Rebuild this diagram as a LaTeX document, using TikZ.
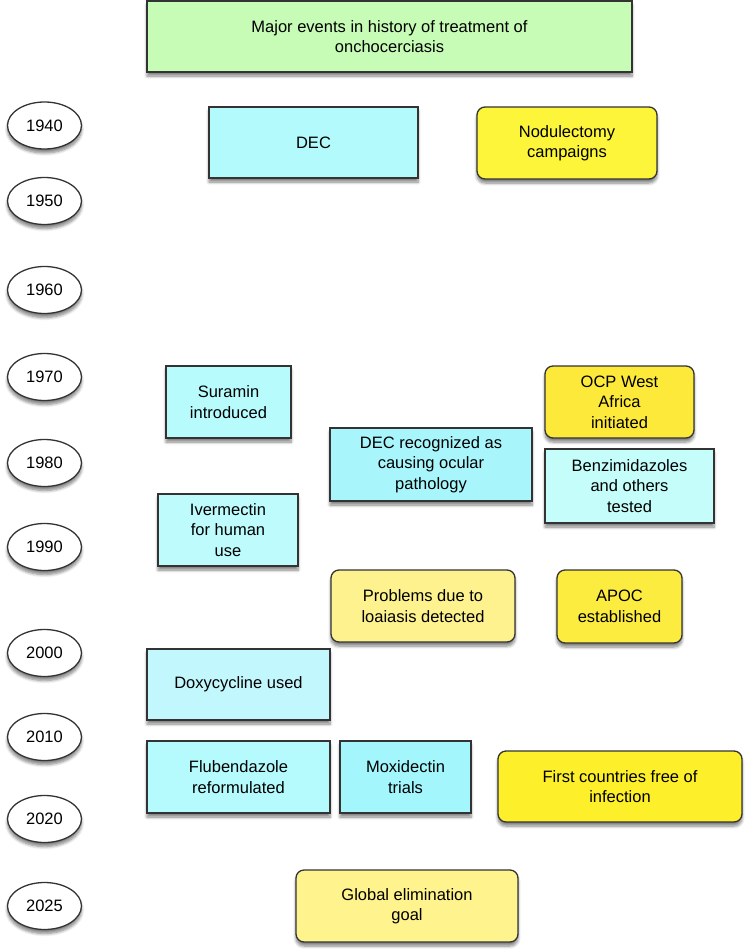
\documentclass[tikz,border=0pt]{standalone}
\usepackage{fontspec}
\setmainfont{Liberation Sans}
\usetikzlibrary{shadows.blur,shapes.geometric}
\definecolor{titlegreen}{HTML}{C6FCB6}
\definecolor{cyanA}{HTML}{B3FAFC}
\definecolor{cyanB}{HTML}{B7FBFD}
\definecolor{cyanC}{HTML}{A8F6FB}
\definecolor{cyanD}{HTML}{BDFBFD}
\definecolor{cyanE}{HTML}{C5FDFB}
\definecolor{cyanF}{HTML}{C2F8FD}
\definecolor{cyanG}{HTML}{B5FBFD}
\definecolor{cyanH}{HTML}{A3F7FC}
\definecolor{yelA}{HTML}{FCF53A}
\definecolor{yelB}{HTML}{FDE93A}
\definecolor{yelC}{HTML}{FDEC40}
\definecolor{yelD}{HTML}{FDF28E}
\definecolor{yelE}{HTML}{FDEF2A}
\definecolor{yelF}{HTML}{FEF38C}
\definecolor{edge}{HTML}{333333}
\tikzset{
  base/.style={draw=edge, line width=1.3pt, align=center, inner sep=0pt,
    font=\fontsize{16.5}{20.5}\selectfont,
    blur shadow={shadow xshift=0pt, shadow yshift=-4pt, shadow blur steps=6, shadow opacity=50, shadow blur radius=3pt}},
  sqbox/.style={base, rectangle},
  rbox/.style={base, rectangle, rounded corners=8pt},
  year/.style={base, ellipse, minimum width=74pt, minimum height=47pt}
}
\begin{document}
\begin{tikzpicture}[x=1pt,y=-1pt]
\useasboundingbox (0,0) rectangle (750,950);
% title
\node[sqbox, fill=titlegreen, minimum width=485pt, minimum height=71pt] (title) at (389.5,36.5) {Major events in history of treatment of\\onchocerciasis};
% years
\node[year, fill=white] (y1940) at (44.5,125.5) {1940};
\node[year, fill=white] (y1950) at (44.5,201) {1950};
\node[year, fill=white] (y1960) at (44.5,290) {1960};
\node[year, fill=white] (y1970) at (44.5,377) {1970};
\node[year, fill=white] (y1980) at (44.5,463) {1980};
\node[year, fill=white] (y1990) at (44.5,547) {1990};
\node[year, fill=white] (y2000) at (44.5,653) {2000};
\node[year, fill=white] (y2010) at (44.5,737) {2010};
\node[year, fill=white] (y2020) at (44.5,819) {2020};
\node[year, fill=white] (y2025) at (44.5,906) {2025};
% events
\node[sqbox, fill=cyanA, minimum width=209pt, minimum height=71pt] (dec) at (313.5,142.5) {DEC};
\node[rbox, fill=yelA, minimum width=180pt, minimum height=72pt] (nod) at (567,143) {Nodulectomy\\campaigns};
\node[sqbox, fill=cyanB, minimum width=125pt, minimum height=72pt] (sur) at (228.5,402) {Suramin\\introduced};
\node[rbox, fill=yelB, minimum width=149pt, minimum height=72pt] (ocp) at (619.5,402) {OCP West\\Africa\\initiated};
\node[sqbox, fill=cyanC, minimum width=202pt, minimum height=73pt] (decr) at (431,464.5) {DEC recognized as\\causing ocular\\pathology};
\node[sqbox, fill=cyanE, minimum width=169pt, minimum height=74pt] (benz) at (629.5,486) {Benzimidazoles\\and others\\tested};
\node[sqbox, fill=cyanD, minimum width=140pt, minimum height=72pt] (iver) at (228,530) {Ivermectin\\for human\\use};
\node[rbox, fill=yelD, minimum width=184pt, minimum height=72pt] (loa) at (423,606) {Problems due to\\loaiasis detected};
\node[rbox, fill=yelC, minimum width=125pt, minimum height=73pt] (apoc) at (619.5,606.5) {APOC\\established};
\node[sqbox, fill=cyanF, minimum width=183pt, minimum height=71pt] (doxy) at (238.5,684.5) {Doxycycline used};
\node[sqbox, fill=cyanG, minimum width=183pt, minimum height=72pt] (flub) at (238.5,777) {Flubendazole\\reformulated};
\node[sqbox, fill=cyanH, minimum width=131pt, minimum height=72pt] (moxi) at (405.5,777) {Moxidectin\\trials};
\node[rbox, fill=yelE, minimum width=244pt, minimum height=71pt] (first) at (620,786.5) {First countries free of\\infection};
\node[rbox, fill=yelF, minimum width=222pt, minimum height=72pt] (glob) at (407,906) {Global elimination\\goal};
\end{tikzpicture}
\end{document}
